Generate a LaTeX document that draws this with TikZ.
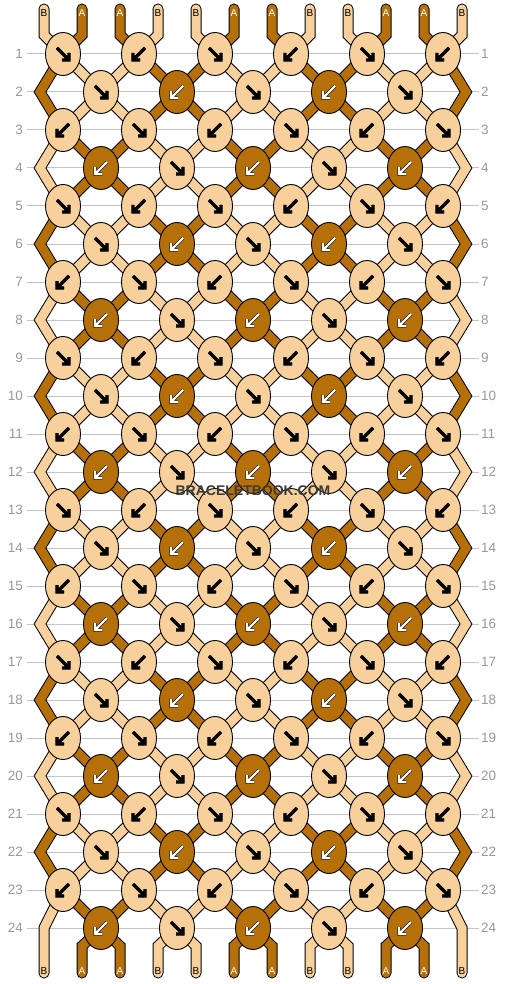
\documentclass[tikz,border=0pt]{standalone}
\usepackage{fontspec}
\setmainfont{Liberation Sans}
\usetikzlibrary{shapes.geometric,backgrounds}

\definecolor{colA}{HTML}{B5700A}
\definecolor{colB}{HTML}{F8D09C}
\definecolor{rowgray}{HTML}{999999}
\definecolor{linegray}{HTML}{C4C4C4}
\definecolor{markgray}{HTML}{3A3A3A}

\tikzset{
  knot/.style={ellipse, draw=black, line width=0.9pt, fill=#1,
    minimum width=35pt, minimum height=43pt, inner sep=0pt},
  strand/.style={draw=black, line width=1pt, double=#1, double distance=9pt, line join=miter},
  strandend/.style={strand=#1, line cap=round},
  arrowK/.style={draw=black, line width=0.6pt, double=#1, double distance=2.2pt, line join=miter},
  rowlabel/.style={text=rowgray, font=\fontsize{13.5}{14}\selectfont, inner sep=0pt},
  letter/.style={text=#1, font=\fontsize{10}{11}\selectfont, inner sep=0pt},
  watermark/.style={text=markgray, font=\bfseries\fontsize{14}{15}\selectfont, inner sep=0pt}
}

\begin{document}
\begin{tikzpicture}[x=1pt, y=-1pt]
  \useasboundingbox (0,0) rectangle (506,984);

  % 行号
  \foreach \row in {1,...,24} {
    \node[rowlabel, anchor=east] (rl-\row) at (23,54+38*\row-38) {\row};
    \node[rowlabel, anchor=west] (rr-\row) at (481,54+38*\row-38) {\row};
  }

  % 线头字母 (上/下)
  \foreach \pos/\s/\tc in {1/B/black,2/A/white,3/A/white,4/B/black,5/B/black,6/A/white,
                           7/A/white,8/B/black,9/B/black,10/A/white,11/A/white,12/B/black} {
    \node[letter=\tc] (t-\pos) at (6+38*\pos,13) {\s};
    \node[letter=\tc] (b-\pos) at (6+38*\pos,971) {\s};
  }

  % 两侧折点
  \foreach \row in {2,4,...,22} {
    \coordinate (eL-\row) at (40,54+38*\row-38);
    \coordinate (eR-\row) at (466,54+38*\row-38);
  }
  \coordinate (eL-24) at (44,928);
  \coordinate (eR-24) at (462,928);

  % 结 + 箭头
  \foreach \row in {1,...,24} {
    \pgfmathsetmacro\yy{54+38*(\row-1)}
    \pgfmathtruncatemacro\n{5+mod(\row,2)}     % 奇数行6个, 偶数行5个
    \pgfmathsetmacro\xo{101-38*mod(\row,2)}
    \foreach \col in {1,...,\n} {
      \pgfmathtruncatemacro\fw{mod(\col+floor((\row-1)/2),2)}   % 1 = 右下
      \pgfmathtruncatemacro\dk{(1-mod(\row,2))*(1-\fw)}         % 偶数行左下 = 深色
      \pgfmathsetmacro\sx{2*\fw-1}
      \ifnum\dk=1 \def\kc{colA}\def\ac{white}\else\def\kc{colB}\def\ac{black}\fi
      \node[knot=\kc] (k-\row-\col) at (\xo+76*\col-76,\yy) {};
      \draw[arrowK=\ac] (k-\row-\col.center) +(-6*\sx,-6) -- +(6*\sx,6)
        +(-1*\sx,6) -- +(6*\sx,6) -- +(6*\sx,-1);
    }
  }

  \begin{pgfonlayer}{background}
    \fill[white] (0,0) rectangle (506,984);

    % 行线
    \foreach \row in {1,...,24} {
      \draw[linegray, line width=1pt, shorten <=4pt, shorten >=2pt] (rl-\row.east) -- (rr-\row.west);
    }

    % 顶端线
    \foreach \pos in {1,...,12} {
      \pgfmathtruncatemacro\dk{mod(floor(\pos/2),2)}
      \ifnum\dk=1 \def\sc{colA}\else\def\sc{colB}\fi
      \pgfmathtruncatemacro\j{ceil(\pos/2)}
      \draw[strandend=\sc] ([yshift=4pt]t-\pos.center) -- ++(0,26) -- (k-1-\j.center);
    }

    % 中间线段
    \foreach \row in {1,...,23} {
      \pgfmathtruncatemacro\rn{\row+1}
      \foreach \pos in {2,...,11} {
        \pgfmathtruncatemacro\ja{floor((\pos+mod(\row,2))/2)}
        \pgfmathtruncatemacro\jb{floor((\pos+mod(\rn,2))/2)}
        \pgfmathtruncatemacro\dk{mod(floor(\pos/2)+floor((\row+1)/2),2)}
        \ifnum\dk=1 \def\sc{colA}\else\def\sc{colB}\fi
        \draw[strand=\sc] (k-\row-\ja.center) -- (k-\rn-\jb.center);
      }
    }

    % 两侧折线
    \foreach \row in {2,4,...,22} {
      \pgfmathtruncatemacro\ra{\row-1}
      \pgfmathtruncatemacro\rb{\row+1}
      \pgfmathtruncatemacro\dk{mod(floor(\row/2),2)}
      \ifnum\dk=1 \def\sc{colA}\else\def\sc{colB}\fi
      \draw[strand=\sc] (k-\ra-1.center) -- (eL-\row) -- (k-\rb-1.center);
      \draw[strand=\sc] (k-\ra-6.center) -- (eR-\row) -- (k-\rb-6.center);
    }

    % 底端线
    \draw[strandend=colB] (k-23-1.center) -- (eL-24) -- ([yshift=-2pt]b-1.center);
    \draw[strandend=colB] (k-23-6.center) -- (eR-24) -- ([yshift=-2pt]b-12.center);
    \foreach \pos in {2,...,11} {
      \pgfmathtruncatemacro\dk{mod(floor(\pos/2),2)}
      \ifnum\dk=1 \def\sc{colA}\else\def\sc{colB}\fi
      \pgfmathtruncatemacro\j{floor(\pos/2)}
      \draw[strandend=\sc] (k-24-\j.center) -- ([yshift=25pt]b-\pos.center) -- ([yshift=-2pt]b-\pos.center);
    }
  \end{pgfonlayer}

  \node[watermark] (wm) at (253,491) {BRACELETBOOK.COM};
\end{tikzpicture}
\end{document}
